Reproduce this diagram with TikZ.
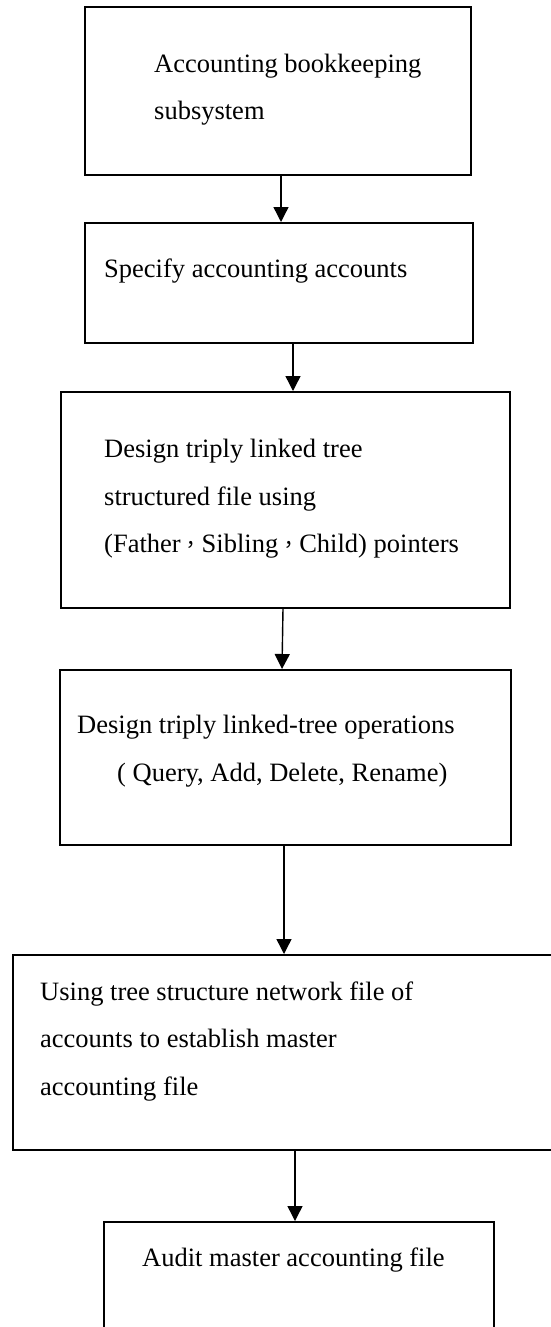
\documentclass[tikz,border=0pt]{standalone}
\usepackage{fontspec}
\setmainfont{Liberation Serif}
\newfontfamily\cjk{Noto Sans CJK TC}
\usetikzlibrary{arrows.meta,positioning,calc}
\tikzset{
  boxnode/.style={draw=black, line width=1.6pt, rectangle, inner sep=0pt, anchor=north west},
  txt/.style={anchor=base west, inner sep=0pt, font=\fontsize{26.5}{32}\selectfont},
  arr/.style={draw=black, line width=1.4pt, -{Triangle[length=15pt,width=15pt]}}
}
\newcommand{\fwcomma}{{\cjk\fontsize{21}{21}\selectfont ，}}
\begin{document}
\begin{tikzpicture}[x=1pt,y=-1pt]
\useasboundingbox (0,0) rectangle (551,1327);
% boxes
\node[boxnode, minimum width=386pt, minimum height=168pt] (b1) at (84,6) {};
\node[boxnode, minimum width=388pt, minimum height=120pt] (b2) at (84,222) {};
\node[boxnode, minimum width=449pt, minimum height=216pt] (b3) at (60,391) {};
\node[boxnode, minimum width=451pt, minimum height=175pt] (b4) at (59,669) {};
\node[boxnode, minimum width=560pt, minimum height=195pt] (b5) at (12,954) {};
\node[boxnode, minimum width=390pt, minimum height=130pt] (b6) at (103,1221) {};
% texts
\node[txt] (t1a) at (154,73) {Accounting bookkeeping};
\node[txt] (t1b) at (154,120) {subsystem};
\node[txt] (t2) at (104,277) {Specify accounting accounts};
\node[txt] (t3a) at (104,457) {Design triply linked tree};
\node[txt] (t3b) at (104,505) {structured file using};
\node[txt] (t3c) at (104,552) {(Father\fwcomma Sibling\fwcomma Child) pointers};
\node[txt] (t4a) at (77,733) {Design triply linked-tree operations};
\node[txt] (t4b) at (117,781) {( Query, Add, Delete, Rename)};
\node[txt] (t5a) at (40,1000) {Using tree structure network file of};
\node[txt] (t5b) at (40,1047) {accounts to establish master};
\node[txt] (t5c) at (40,1095) {accounting file};
\node[txt] (t6) at (142,1266) {Audit master accounting file};
% arrows
\draw[arr] (281,0 |- b1.south) -- (281,0 |- b2.north);
\draw[arr] (293,0 |- b2.south) -- (293,0 |- b3.north);
\draw[arr] (283,0 |- b3.south) -- (282,0 |- b4.north);
\draw[arr] (284,0 |- b4.south) -- (284,0 |- b5.north);
\draw[arr] (295,0 |- b5.south) -- (295,0 |- b6.north);
\end{tikzpicture}
\end{document}
